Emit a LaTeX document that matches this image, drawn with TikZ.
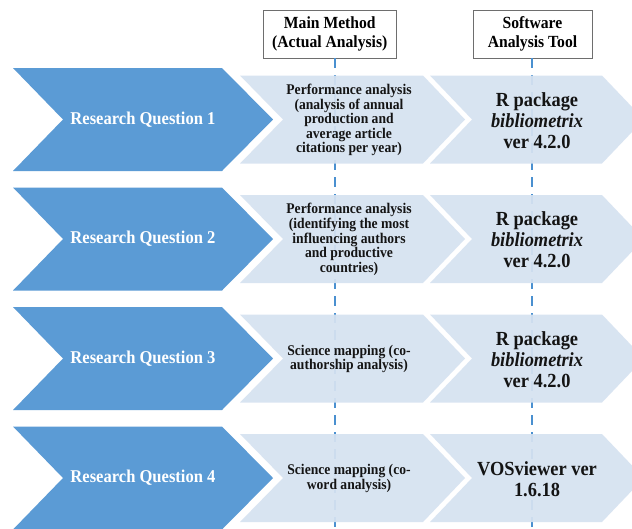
\documentclass[tikz,border=0pt]{standalone}
\usepackage{fontspec}
\setmainfont{Liberation Serif}[FakeStretch=0.92]
\definecolor{darkchev}{RGB}{91,155,213}
\definecolor{lightchev}{RGB}{214,226,241}
\definecolor{dashblue}{RGB}{74,144,208}
\definecolor{boxgray}{RGB}{110,110,110}
\tikzset{
  darkshape/.style={fill=darkchev},
  lightshape/.style={fill=lightchev, fill opacity=0.93},
  qtext/.style={text=white, font=\fontsize{18}{20}\selectfont\bfseries, inner sep=0pt},
  midtext/.style={text=black!92, font=\fontsize{14.8}{14.6}\selectfont\bfseries, align=center, inner sep=0pt},
  righttext/.style={text=black!92, font=\fontsize{20}{21}\selectfont\bfseries, align=center, inner sep=0pt},
  headbox/.style={draw=boxgray, line width=0.9pt, fill=white, align=center, inner sep=0pt,
     font=\fontsize{17}{18.5}\selectfont\bfseries},
  guide/.style={draw=dashblue, line width=2.2pt, dash pattern=on 10pt off 7pt}
}
\newcommand\drawrow[4]{%
  \fill[darkshape] (13,#2-51.5) -- (222,#2-51.5) -- (273,#2) -- (222,#2+51.5) -- (13,#2+51.5) -- (63,#2) -- cycle;
  \fill[lightshape] (240,#2-44) -- (423,#2-44) -- (465,#2) -- (423,#2+44) -- (240,#2+44) -- (283,#2) -- cycle;
  \fill[lightshape] (430,#2-44) -- (602,#2-44) -- (644,#2) -- (602,#2+44) -- (430,#2+44) -- (472,#2) -- cycle;
  \node[qtext] (q#1) at (143,#2) {Research Question #1};
  \node[midtext] (m#1) at (349,#2+0.5) {#3};
  \node[righttext] (s#1) at (537,#2+1) {#4};
}
\begin{document}
\begin{tikzpicture}[x=1pt,y=-1pt]
\useasboundingbox (0,0) rectangle (632,528);
\clip (0,0) rectangle (632,528);
\fill[white] (0,0) rectangle (632,528);
% headers
\node[headbox, minimum width=133pt, minimum height=48pt] (mm) at (329.8,34) {Main Method\\(Actual Analysis)};
\node[headbox, minimum width=119pt, minimum height=48pt] (sw) at (532.5,34) {Software\\Analysis Tool};
\coordinate (d1) at (335,528);
\coordinate (d2) at (532,528);
\draw[guide] (mm.south -| d1) -- (d1);
\draw[guide] (sw.south -| d2) -- (d2);
% rows
\drawrow{1}{119.5}{Performance analysis\\(analysis of annual\\production and\\average article\\citations per year)}{R package\\\textit{bibliometrix}\\ver 4.2.0}
\drawrow{2}{239}{Performance analysis\\(identifying the most\\influencing authors\\and productive\\countries)}{R package\\\textit{bibliometrix}\\ver 4.2.0}
\drawrow{3}{358.5}{Science mapping (co-\\authorship analysis)}{R package\\\textit{bibliometrix}\\ver 4.2.0}
\drawrow{4}{478}{Science mapping (co-\\word analysis)}{VOSviewer ver\\1.6.18}
\end{tikzpicture}
\end{document}
